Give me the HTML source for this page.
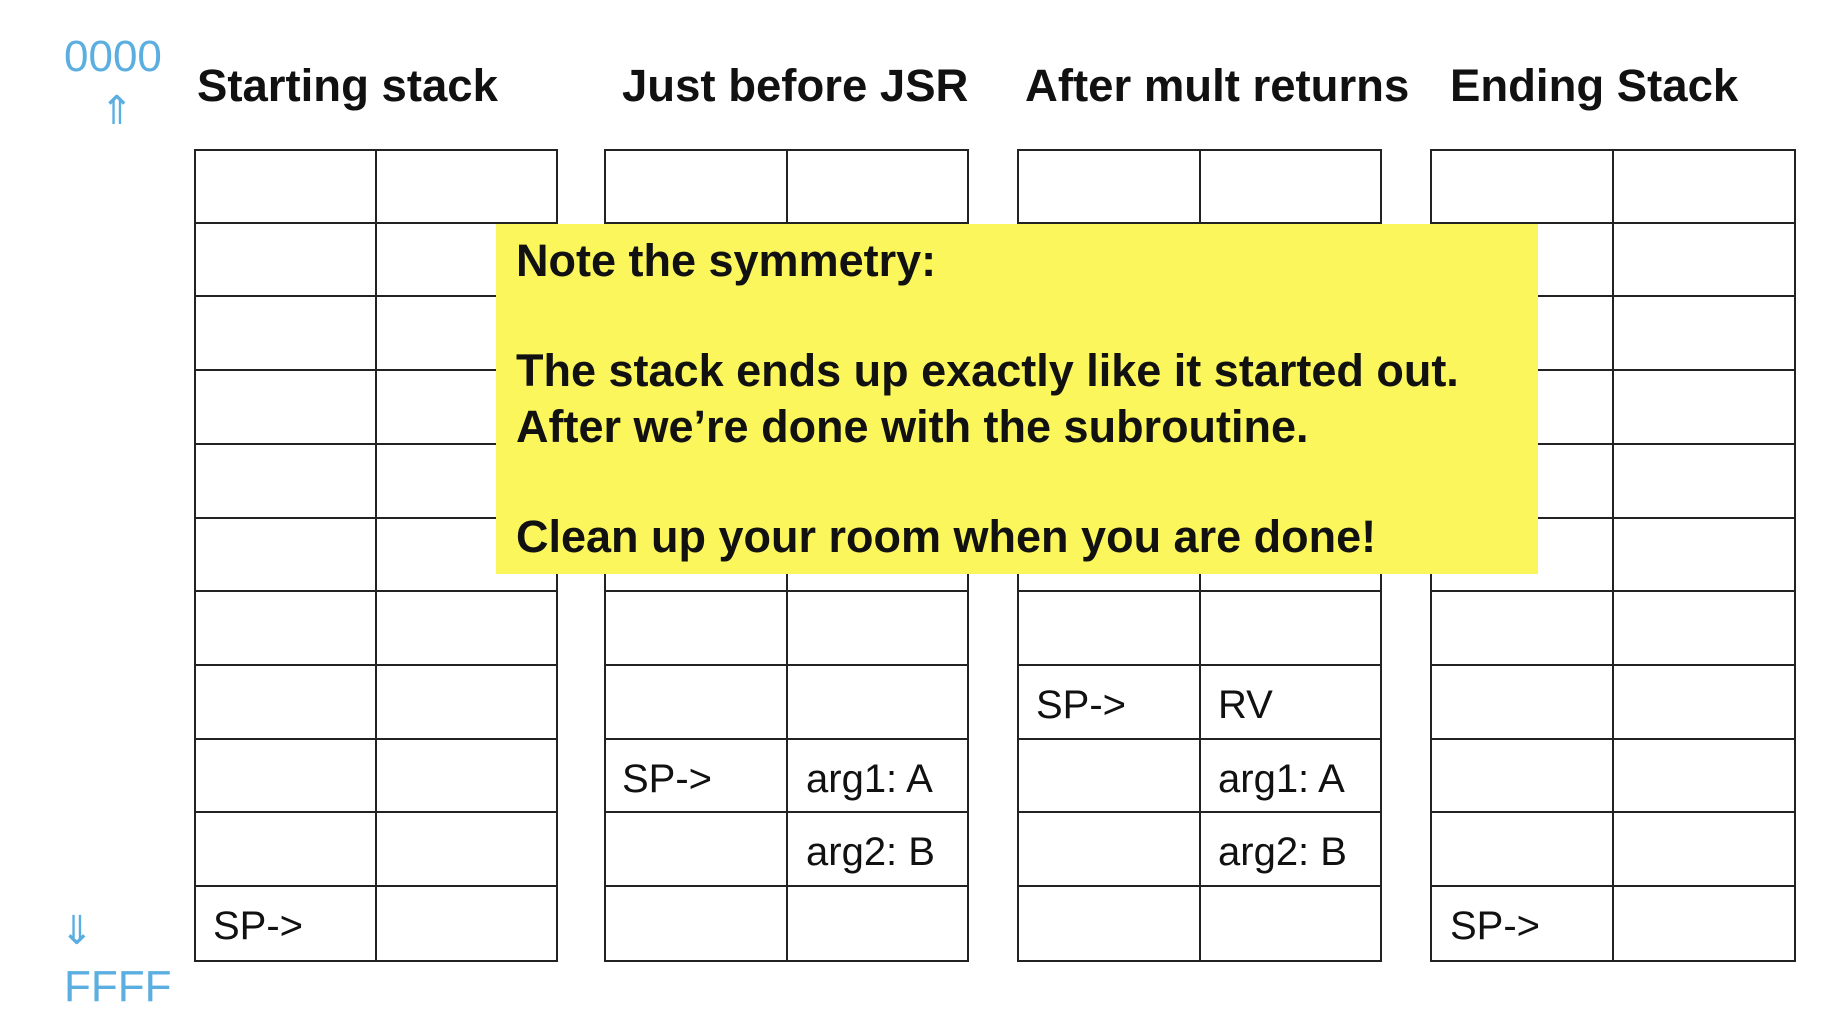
<!DOCTYPE html>
<html><head><meta charset="utf-8"><style>
body{margin:0;width:1840px;height:1004px;background:#fff;position:relative;overflow:hidden;font-family:"Liberation Sans",Arial,sans-serif}
.a{position:absolute;white-space:nowrap}
.h{font-weight:bold;font-size:45.5px;color:#111;top:60px}
.b{color:#5aaee0;font-size:44px}
.t{position:absolute;border:2px solid #222;box-sizing:border-box}
.l{position:absolute;background:#222}
.c{position:absolute;font-size:40px;color:#111;line-height:74px}
.y{position:absolute;left:496px;top:224px;width:1042px;height:350px;background:#fbf65c}
.y div{position:absolute;left:20px;font-weight:bold;font-size:45px;color:#111;white-space:nowrap}
</style></head><body>
<div class="a b" style="left:64px;top:32px">0000</div>
<div class="a b" style="left:100px;top:88px;font-size:40px">⇑</div>
<div class="a b" style="left:60px;top:908px;font-size:40px">⇓</div>
<div class="a b" style="left:64px;top:962px">FFFF</div>
<div class="a h" style="left:197px">Starting stack</div>
<div class="a h" style="left:622px">Just before JSR</div>
<div class="a h" style="left:1025px">After mult returns</div>
<div class="a h" style="left:1450px">Ending Stack</div>
<div id="g"></div>
<div class="y">
<div style="top:11px">Note the symmetry:</div>
<div style="top:121px">The stack ends up exactly like it started out.</div>
<div style="top:177px">After we’re done with the subroutine.</div>
<div style="top:287px">Clean up your room when you are done!</div>
</div>
<script>
var T=[[194,558],[604,969],[1017,1382],[1430,1796]],top0=149,rh=73.7,g=document.getElementById('g'),h='';
T.forEach(function(t){var w=t[1]-t[0],m=t[0]+Math.round(w/2);
h+='<div class="t" style="left:'+t[0]+'px;top:'+top0+'px;width:'+w+'px;height:'+Math.round(rh*11+2)+'px"></div>';
h+='<div class="l" style="left:'+(m-1)+'px;top:'+top0+'px;width:2px;height:'+Math.round(rh*11)+'px"></div>';
for(var i=1;i<11;i++)h+='<div class="l" style="left:'+t[0]+'px;top:'+Math.round(top0+rh*i-1)+'px;width:'+w+'px;height:2px"></div>';});
function c(x,r,s){h+='<div class="c" style="left:'+x+'px;top:'+Math.round(top0+rh*r+3)+'px">'+s+'</div>';}
c(213,10,'SP-&gt;');c(622,8,'SP-&gt;');c(806,8,'arg1: A');c(806,9,'arg2: B');
c(1036,7,'SP-&gt;');c(1218,7,'RV');c(1218,8,'arg1: A');c(1218,9,'arg2: B');c(1450,10,'SP-&gt;');
g.innerHTML=h;
</script>
</body></html>
